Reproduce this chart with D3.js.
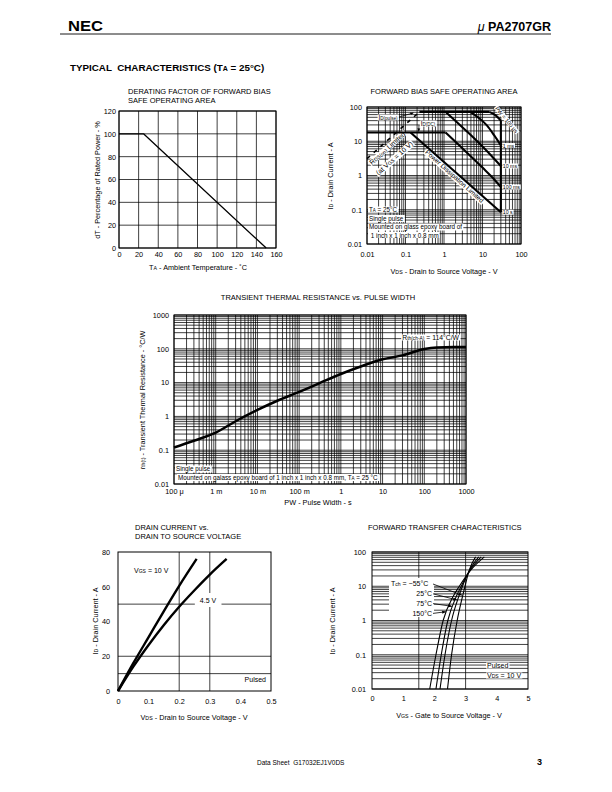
<!DOCTYPE html>
<html>
<head>
<meta charset="utf-8">
<script src="https://cdn.jsdelivr.net/npm/d3@7"></script>
<style>
  body { margin: 0; background: #fff; }
  svg { display: block; font-family: "Liberation Sans", Arial, Helvetica, sans-serif; }
  svg text { white-space: pre; }
</style>
</head>
<body>
<svg id="page" width="612" height="792"></svg>
<script>
// ---- derating factor ----
const derateX = [0, 20, 40, 60, 80, 100, 120, 140, 160];
const derateY = [0, 20, 40, 60, 80, 100, 120];
const derateCurve = [[0, 100], [25, 100], [150, 0]];

// ---- forward bias SOA (V, A) ----
const soaTicks = [0.01, 0.1, 1, 10, 100];
const soaTickLabels = ["0.01", "0.1", "1", "10", "100"];
const rdsLimit = [[0.01, 3.1], [0.23, 72]];
const idPulseLine = [[0.23, 72], [15, 72]];
const idDcLine = [[0.01, 18], [1.1, 18]];
const pw100us = [[15, 72], [22, 57], [30, 40]];
const pw1ms = [[4.8, 72], [8, 48], [13, 29], [20, 15], [30, 7.5]];
const pw10ms = [[1.1, 72], [4, 19], [10, 7], [20, 3.1], [30, 1.9]];
const pw100ms = [[1.1, 18], [3, 6.2], [10, 1.7], [20, 0.78], [30, 0.46]];
const pw10s = [[0.135, 18], [30, 0.085]];
const vdssLine = [[30, 40], [30, 0.085]];
const pwNames = ["1 ms", "10 ms", "100 ms", "10 s"];

// ---- transient thermal resistance ----
const thermPw = [1e-4, 3e-4, 1e-3, 3e-3, 1e-2, 3e-2, 0.1, 0.3, 1, 3, 10, 30, 100, 200, 500, 1000];
const thermR  = [0.12, 0.19, 0.33, 0.72, 1.55, 2.9, 5.3, 9.5, 18, 30, 49, 64, 98, 110, 114, 114];
const thermXTicks = [1e-4, 1e-3, 1e-2, 0.1, 1, 10, 100, 1000];
const thermXLabels = ["100 \u03bc", "1 m", "10 m", "100 m", "1", "10", "100", "1000"];
const thermYTicks = [0.01, 0.1, 1, 10, 100, 1000];
const thermYLabels = ["0.01", "0.1", "1", "10", "100", "1000"];

// ---- drain current vs drain-source voltage ----
const outXTicks = [0, 0.1, 0.2, 0.3, 0.4, 0.5];
const outYTicks = [0, 20, 40, 60, 80];
const outGridX = [0.2, 0.3];
const outGridY = [10, 20, 50];
const vgs10  = [[0, 0], [0.05, 16], [0.1, 31], [0.15, 46], [0.2, 60.5], [0.257, 76]];
const vgs4_5 = [[0, 0], [0.05, 14], [0.1, 26.5], [0.15, 38], [0.2, 48.5], [0.25, 58], [0.3, 67], [0.355, 76]];

// ---- forward transfer ----
const ftXTicks = [0, 1, 2, 3, 4, 5];
const ftYTicks = [0.01, 0.1, 1, 10, 100];
const ftYLabels = ["0.01", "0.1", "1", "10", "100"];
const ftGridX = [1.5, 3];
const tchM55 = [[2.42, 0.01], [2.55, 0.1], [2.73, 1], [2.9, 5], [2.98, 10], [3.12, 30], [3.32, 72]];
const tch25  = [[2.18, 0.01], [2.34, 0.1], [2.55, 1], [2.78, 5], [2.9, 10], [3.13, 30], [3.42, 72]];
const tch75  = [[2.05, 0.01], [2.22, 0.1], [2.43, 1], [2.7, 5], [2.86, 10], [3.15, 30], [3.5, 72]];
const tch150 = [[1.85, 0.01], [2.05, 0.1], [2.28, 1], [2.6, 5], [2.8, 10], [3.17, 30], [3.6, 72]];
const tchNames = ["\u221255\u00b0C", "25\u00b0C", "75\u00b0C", "150\u00b0C"];
const tchArrowAt = [5.5, 4, 2.6, 1.8];

const svg = d3.select("#page");

svg.append("defs").append("marker")
    .attr("id", "arr")
    .attr("viewBox", "0 0 10 10")
    .attr("refX", 9).attr("refY", 5)
    .attr("markerWidth", 5).attr("markerHeight", 5)
    .attr("orient", "auto")
    .append("path").attr("d", "M0,1 L10,5 L0,9 Z").attr("fill", "#000");

// text with optional subscripts: parts are strings, or [str] for subscript
function tag(g, x, y, parts, size, o = {}) {
    let grp = g.append("g").attr("transform", `translate(${x},${y}) rotate(${o.rot || 0})`);
    let t = grp.append("text")
        .attr("font-size", size)
        .attr("text-anchor", o.anchor || "start")
        .attr("font-weight", o.bold ? "bold" : null)
        .attr("fill", "#000");
    parts.forEach(p => {
        let sub = Array.isArray(p);
        t.append("tspan").attr("font-size", sub ? size * 0.72 : null).text(sub ? p[0] : p);
    });
    if (o.bg) {
        let b = t.node().getBBox(),
            pad = o.pad == null ? 1 : o.pad,
            padY = o.padY == null ? -0.5 : o.padY;
        grp.insert("rect", "text")
            .attr("x", b.x - pad).attr("y", b.y - padY)
            .attr("width", b.width + 2 * pad).attr("height", b.height + 2 * padY)
            .attr("fill", "#fff");
    }
    return grp;
}

function logGrid(lo, hi) {
    let out = [];
    for (let e = Math.floor(Math.log10(lo)); e <= Math.ceil(Math.log10(hi)); e++)
        for (let m = 1; m < 10; m++) {
            let v = m * Math.pow(10, e);
            if (v >= lo * 0.999 && v <= hi * 1.001) out.push(v);
        }
    return out;
}

function grid(g, x, y, xs, ys) {
    let [x0, x1] = x.range(), [y0, y1] = y.range();
    g.append("g").selectAll("line").data(xs).join("line")
        .attr("x1", d => x(d)).attr("x2", d => x(d))
        .attr("y1", y0).attr("y2", y1)
        .attr("stroke", "#000").attr("stroke-width", 0.75);
    g.append("g").selectAll("line").data(ys).join("line")
        .attr("x1", x0).attr("x2", x1)
        .attr("y1", d => y(d)).attr("y2", d => y(d))
        .attr("stroke", "#000").attr("stroke-width", 0.75);
}

function frame(g, x, y) {
    let [x0, x1] = x.range(), [y0, y1] = y.range();
    g.append("rect")
        .attr("x", x0).attr("y", y1)
        .attr("width", x1 - x0).attr("height", y0 - y1)
        .attr("fill", "none").attr("stroke", "#000").attr("stroke-width", 1);
}

function axes(g, x, y, xt, xl, yt, yl, padX, padY) {
    let ax = g.append("g")
        .attr("transform", `translate(0,${y.range()[0]})`)
        .call(d3.axisBottom(x).tickValues(xt).tickFormat((d, i) => xl[i]).tickSize(0).tickPadding(padX));
    let ay = g.append("g")
        .attr("transform", `translate(${x.range()[0]},0)`)
        .call(d3.axisLeft(y).tickValues(yt).tickFormat((d, i) => yl[i]).tickSize(0).tickPadding(padY));
    [ax, ay].forEach(a => {
        a.attr("font-family", null).attr("font-size", 7.3);
        a.select(".domain").remove();
        a.selectAll("text").attr("fill", "#000");
    });
}

function curve(g, x, y, pts, w, kind) {
    return g.append("path")
        .datum(pts)
        .attr("d", d3.line().x(d => x(d[0])).y(d => y(d[1])).curve(kind || d3.curveMonotoneX))
        .attr("fill", "none").attr("stroke", "#000").attr("stroke-width", w)
        .attr("stroke-linejoin", "round");
}

// ===== page header =====
svg.append("text").attr("x", 68).attr("y", 31)
    .attr("font-size", 14).attr("font-weight", "bold")
    .attr("textLength", 35).attr("lengthAdjust", "spacingAndGlyphs").text("NEC");
let pn = svg.append("text").attr("x", 551).attr("y", 31)
    .attr("font-size", 12.5).attr("font-weight", "bold").attr("text-anchor", "end");
pn.append("tspan").attr("font-style", "italic").attr("font-weight", "normal").text("\u03bc ");
pn.append("tspan").text("PA2707GR");
svg.append("line").attr("x1", 60).attr("x2", 551).attr("y1", 34).attr("y2", 34)
    .attr("stroke", "#000").attr("stroke-width", 0.9);
tag(svg, 70, 71, ["TYPICAL  CHARACTERISTICS (T", ["A"], " = 25\u00b0C)"], 9.8, {bold: true});

// ===== derating factor =====
{
    let g = svg.append("g");
    let x = d3.scaleLinear([0, 160], [119, 276]);
    let y = d3.scaleLinear([0, 120], [248, 111]);
    grid(g, x, y, derateX, derateY);
    frame(g, x, y);
    axes(g, x, y, derateX, derateX.map(String), derateY, derateY.map(String), 4, 3);
    curve(g, x, y, derateCurve, 1.3, d3.curveLinear);
    tag(g, 128, 94, ["DERATING FACTOR OF FORWARD BIAS"], 7.5);
    tag(g, 128, 103, ["SAFE OPERATING AREA"], 7.5);
    tag(g, 198, 270, ["T", ["A"], " - Ambient Temperature - \u02daC"], 7.3, {anchor: "middle"});
    tag(g, 100, 180, ["dT - Percentage of Rated Power - %"], 7.3, {anchor: "middle", rot: -90});
}

// ===== forward bias safe operating area =====
{
    let g = svg.append("g");
    let x = d3.scaleLog([0.01, 100], [367, 521]);
    let y = d3.scaleLog([0.01, 100], [244, 107]);
    grid(g, x, y, logGrid(0.01, 100), logGrid(0.01, 100));
    frame(g, x, y);
    axes(g, x, y, soaTicks, soaTickLabels, soaTicks, soaTickLabels, 8, 5);

    // labels that sit on white patches
    tag(g, 369, 212, ["T", ["A"], " = 25\u00b0C"], 6.3, {bg: true});
    tag(g, 369, 220.5, ["Single pulse"], 6.3, {bg: true});
    tag(g, 369, 229, ["Mounted on glass epoxy board of"], 6.3, {bg: true});
    tag(g, 369, 237.5, [" 1 inch x 1 inch x 0.8 mm"], 6.3, {bg: true});
    tag(g, 389, 150, ["R", ["DS(on)"], " Limited"], 7, {anchor: "middle", rot: -41.7, bg: true});
    tag(g, 396, 160, ["(at V", ["GS"], " = 10 V)"], 7, {anchor: "middle", rot: -41.7, bg: true});
    tag(g, 453, 178, ["Power Dissipation Limited"], 6.6, {anchor: "middle", rot: 41.7, bg: true});
    tag(g, 388, 120, ["I", ["D(pulse)"]], 6.3, {anchor: "middle", bg: true});
    tag(g, 428, 126, ["I", ["D(DC)"]], 6.3, {anchor: "middle", bg: true});
    tag(g, 505, 121, ["PW = 100 \u03bcs"], 5.6, {anchor: "middle", rot: 50, bg: true});

    curve(g, x, y, rdsLimit, 1.6, d3.curveLinear).attr("stroke-dasharray", "4,5");
    [idPulseLine, idDcLine, pw100us, pw1ms, pw10ms, pw100ms, pw10s, vdssLine]
        .forEach(c => curve(g, x, y, c, 2.1));

    [pw1ms, pw10ms, pw100ms, pw10s].forEach((c, i) => {
        let end = c[c.length - 1];
        tag(g, x(end[0]) + 2, y(end[1]) + 2, [pwNames[i]], 5.2, {bg: true, pad: 0.5});
    });

    // leaders for the current limits
    g.append("line").attr("x1", 399).attr("y1", 117).attr("x2", x(0.16)).attr("y2", y(72) + 1)
        .attr("stroke", "#000").attr("stroke-width", 0.7).attr("marker-end", "url(#arr)");
    g.append("line").attr("x1", 419).attr("y1", 125).attr("x2", x(0.22)).attr("y2", y(18) - 1)
        .attr("stroke", "#000").attr("stroke-width", 0.7).attr("marker-end", "url(#arr)");

    tag(g, 444, 94, ["FORWARD BIAS SAFE OPERATING AREA"], 7.5, {anchor: "middle"});
    tag(g, 444, 274, ["V", ["DS"], " - Drain to Source Voltage - V"], 7.3, {anchor: "middle"});
    tag(g, 333, 176, ["I", ["D"], " - Drain Current - A"], 7.3, {anchor: "middle", rot: -90});
}

// ===== transient thermal resistance =====
{
    let g = svg.append("g");
    let x = d3.scaleLog([1e-4, 1000], [174, 466]);
    let y = d3.scaleLog([0.01, 1000], [484, 315]);
    grid(g, x, y, logGrid(1e-4, 1000), logGrid(0.01, 1000));
    frame(g, x, y);
    axes(g, x, y, thermXTicks, thermXLabels, thermYTicks, thermYLabels, 5, 5);

    tag(g, 176, 471, ["Single pulse"], 6.3, {bg: true});
    tag(g, 178, 479.5, ["Mounted on galass epoxy board of 1 inch x 1 inch x 0.8 mm, T", ["A"], " = 25 \u00b0C"], 6.3, {bg: true});
    tag(g, 459, 340, ["R", ["th(ch-A)"], " = 114\u00b0C/W"], 6.8, {anchor: "end", bg: true});

    curve(g, x, y, thermPw.map((p, i) => [p, thermR[i]]), 2.5);

    tag(g, 318, 300, ["TRANSIENT THERMAL RESISTANCE vs. PULSE WIDTH"], 7.5, {anchor: "middle"});
    tag(g, 318, 505, ["PW - Pulse Width - s"], 7.3, {anchor: "middle"});
    tag(g, 145, 400, ["r", ["th(t)"], " - Transient Thermal Resistance - \u00b0C/W"], 7.3, {anchor: "middle", rot: -90});
}

// ===== drain current vs drain to source voltage =====
{
    let g = svg.append("g");
    let x = d3.scaleLinear([0, 0.5], [118, 271]);
    let y = d3.scaleLinear([0, 80], [691, 552]);
    grid(g, x, y, outGridX, outGridY);
    frame(g, x, y);
    axes(g, x, y, outXTicks, outXTicks.map(String), outYTicks, outYTicks.map(String), 8, 8);

    tag(g, 134, 573, ["V", ["GS"], " = 10 V"], 7);
    tag(g, 208, 602.5, ["4.5 V"], 7, {anchor: "middle", bg: true, pad: 5, padY: 3.5});
    tag(g, 266, 682, ["Pulsed"], 7, {anchor: "end"});

    curve(g, x, y, vgs10, 2.4);
    curve(g, x, y, vgs4_5, 2.4);

    tag(g, 135, 530, ["DRAIN CURRENT vs."], 7.5);
    tag(g, 135, 539, ["DRAIN TO SOURCE VOLTAGE"], 7.5);
    tag(g, 194, 720, ["V", ["DS"], " - Drain to Source Voltage - V"], 7.3, {anchor: "middle"});
    tag(g, 98, 621, ["I", ["D"], " - Drain Current - A"], 7.3, {anchor: "middle", rot: -90});
}

// ===== forward transfer characteristics =====
{
    let g = svg.append("g");
    let x = d3.scaleLinear([0, 5], [372, 528]);
    let y = d3.scaleLog([0.01, 100], [689, 552]);
    grid(g, x, y, ftGridX, logGrid(0.01, 100));
    frame(g, x, y);
    axes(g, x, y, ftXTicks, ftXTicks.map(String), ftYTicks, ftYLabels, 7, 6);

    // white block behind the temperature labels
    g.append("rect").attr("x", 389).attr("y", 578).attr("width", 45).attr("height", 39).attr("fill", "#fff");
    tag(g, 487, 668, ["Pulsed"], 7, {bg: true});
    tag(g, 487, 678, ["V", ["DS"], " = 10 V"], 7, {bg: true});

    let curves = [tchM55, tch25, tch75, tch150];
    curves.forEach(c => curve(g, x, y, c, 1.1));

    // point on a curve at current I (linear in log I)
    function vAt(c, I) {
        for (let k = 1; k < c.length; k++) {
            if (c[k][1] >= I) {
                let t = (Math.log(I) - Math.log(c[k - 1][1])) / (Math.log(c[k][1]) - Math.log(c[k - 1][1]));
                return c[k - 1][0] + t * (c[k][0] - c[k - 1][0]);
            }
        }
        return c[c.length - 1][0];
    }

    tag(g, 391, 586, ["T", ["ch"], " = " + tchNames[0]], 7);
    tchNames.slice(1).forEach((n, i) => tag(g, 432, 596 + i * 10, [n], 7, {anchor: "end"}));
    curves.forEach((c, i) => {
        let I = tchArrowAt[i];
        g.append("line")
            .attr("x1", 433).attr("y1", 584 + i * 9.8)
            .attr("x2", x(vAt(c, I)) - 1).attr("y2", y(I))
            .attr("stroke", "#000").attr("stroke-width", 0.8)
            .attr("marker-end", "url(#arr)");
    });

    tag(g, 368, 530, ["FORWARD TRANSFER CHARACTERISTICS"], 7.5);
    tag(g, 449, 718, ["V", ["GS"], " - Gate to Source Voltage - V"], 7.3, {anchor: "middle"});
    tag(g, 335, 621, ["I", ["D"], " - Drain Current - A"], 7.3, {anchor: "middle", rot: -90});
}

// ===== footer =====
tag(svg, 257, 765, ["Data Sheet  G17032EJ1V0DS"], 6.5);
tag(svg, 537, 765, ["3"], 9, {bold: true});
</script>
</body>
</html>
